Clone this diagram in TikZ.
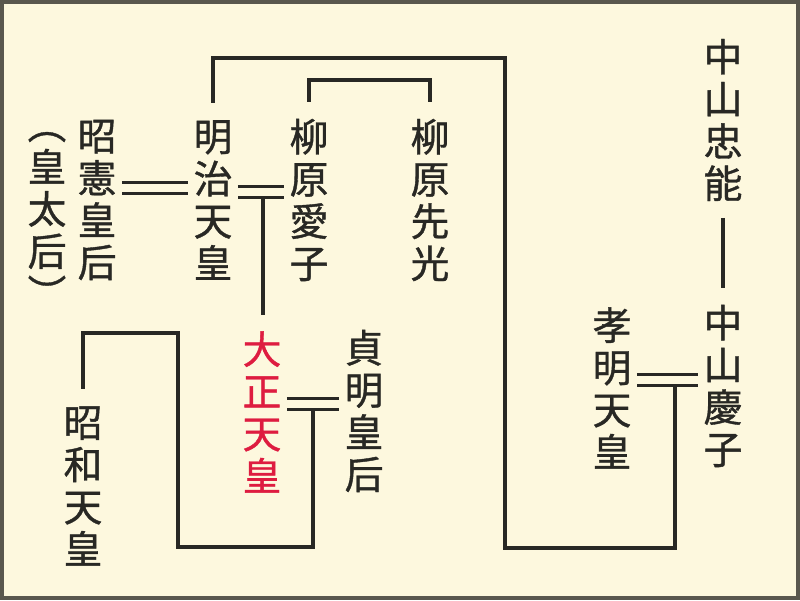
\documentclass[tikz,border=0pt]{standalone}
\usepackage{fontspec}
\newfontfamily\jp{Noto Sans CJK JP}[FakeBold=1]
\definecolor{paper}{RGB}{253,248,222}
\definecolor{ink}{RGB}{40,40,36}
\definecolor{frame}{RGB}{90,88,78}
\definecolor{taishored}{RGB}{222,28,64}

\begin{document}
\begin{tikzpicture}[x=0.025cm, y=-0.025cm,
    person/.style={font=\jp\fontsize{27.5}{30}\selectfont, text=ink, align=center, inner sep=0pt, outer xsep=4pt, outer ysep=12pt},
    line/.style={draw=ink, line width=2.8pt},
    wed/.style={draw=ink, line width=2.1pt, double=paper, double distance=5.8pt}]

  \useasboundingbox (0,0) rectangle (800,600);
  \fill[paper] (0,0) rectangle (800,600);
  \draw[frame, line width=2.8pt] (2,2) rectangle (798,598);

  \node[person] (haruko)    at (97,200)  {昭\\憲\\皇\\后};
  \node[person] (kotaigo)   at (47,220)  {︵\\皇\\太\\后\\︶};
  \node[person] (meiji)     at (213,200) {明\\治\\天\\皇};
  \node[person] (naruko)    at (309,200) {柳\\原\\愛\\子};
  \node[person] (sakimitsu) at (430,200) {柳\\原\\先\\光};
  \node[person] (tadayasu)  at (723,120) {中\\山\\忠\\能};
  \node[person] (yoshiko)   at (723,386) {中\\山\\慶\\子};
  \node[person] (komei)     at (612,388) {孝\\明\\天\\皇};
  \node[person, text=taishored] (taisho) at (262,412) {大\\正\\天\\皇};
  \node[person] (teimei)    at (364,411) {貞\\明\\皇\\后};
  \node[person] (showa)     at (83,486)  {昭\\和\\天\\皇};

  % marriages
  \draw[wed] (haruko.east |- 0,188) -- (meiji.west |- 0,188);
  \draw[wed] (meiji.east |- 0,192) -- coordinate[pos=.55] (m1) (naruko.west |- 0,192);
  \draw[wed] (taisho.east |- 0,404) -- coordinate[pos=.5] (m2) (teimei.west |- 0,404);
  \draw[wed] (komei.east |- 0,380) -- coordinate[pos=.62] (m3) (yoshiko.west |- 0,380);

  % children
  \draw[line] ([yshift=-3pt]m1) -- (m1 |- taisho.north);
  \draw[line] ([yshift=-3pt]m2) |- (178,547) |- (showa.north |- 0,333) -- (showa.north);
  \draw[line] ([yshift=-3pt]m3) |- (505,548) |- (meiji.north |- 0,58) -- (meiji.north);
  \draw[line] (naruko.north) |- (sakimitsu.north |- 0,80) -- (sakimitsu.north);
  \draw[line] (tadayasu) -- (yoshiko);
\end{tikzpicture}
\end{document}
